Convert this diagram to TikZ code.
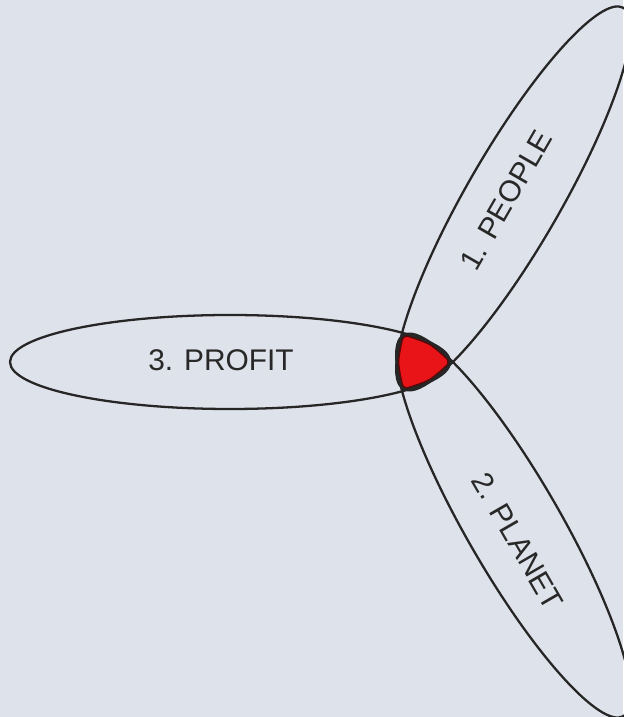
\documentclass[tikz,border=0pt]{standalone}
\usepackage{fontspec}
\setmainfont{Liberation Sans}
\definecolor{bggray}{RGB}{222,226,234}
\definecolor{hubred}{RGB}{232,20,24}
\definecolor{hubedge}{RGB}{90,10,10}
\definecolor{txtgray}{RGB}{40,40,40}
\newcommand\profitpetal{[shift={(230,355)}] (0,0) ellipse (220 and 47)}
\newcommand\peoplepetal{[shift={(513.5,518.6)}, rotate=60] (0,0) ellipse (220 and 47)}
\newcommand\planetpetal{[shift={(513.5,191.4)}, rotate=-60] (0,0) ellipse (220 and 47)}
\begin{document}
\begin{tikzpicture}[x=0.02cm, y=0.02cm,
    petal/.style={line width=1.3pt, draw=black!85},
    lbl/.style={font=\fontsize{17}{20}\selectfont, text=txtgray}]
    \fill[bggray] (0,0) rectangle (623,717);
    \useasboundingbox (0,0) rectangle (623,717);
    % red overlap of all three petals
    \begin{scope}
        \clip \profitpetal;
        \clip \peoplepetal;
        \clip \planetpetal;
        \fill[hubred] (300,200) rectangle (550,500);
        \draw[line width=3pt, hubedge] \profitpetal;
        \draw[line width=3pt, hubedge] \peoplepetal;
        \draw[line width=3pt, hubedge] \planetpetal;
    \end{scope}
    % the three petals
    \draw[petal] \profitpetal;
    \draw[petal] \peoplepetal;
    \draw[petal] \planetpetal;
    \node[lbl] (profit) at (221,357) {3. PROFIT};
    \node[lbl, rotate=60] (people) at (506,517) {1. PEOPLE};
    \node[lbl, rotate=-60] (planet) at (518,176) {2. PLANET};
\end{tikzpicture}
\end{document}
